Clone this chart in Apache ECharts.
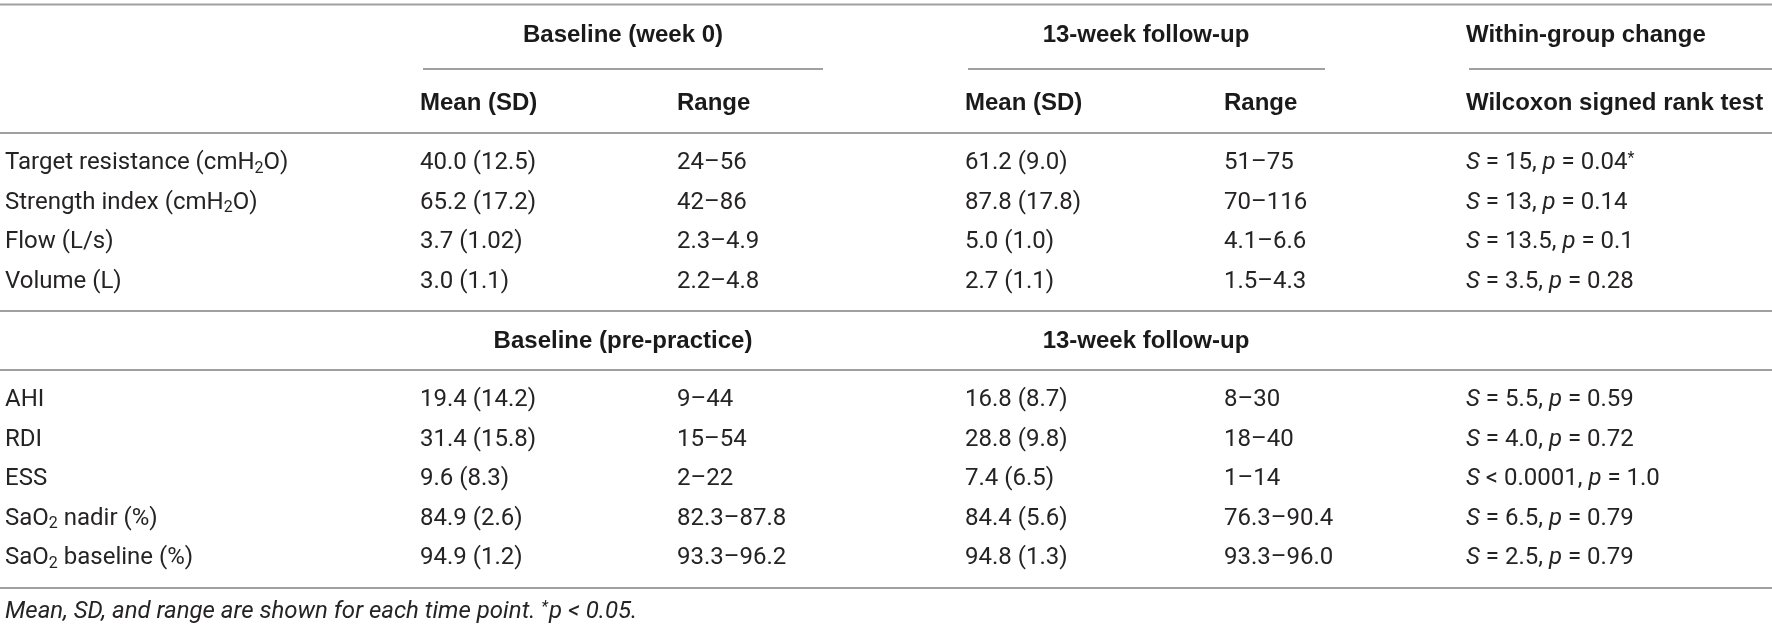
<!DOCTYPE html>
<html>
<head>
<meta charset="utf-8">
<script src="https://cdn.jsdelivr.net/npm/echarts@6/dist/echarts.min.js"></script>
<style>
  html, body { margin: 0; padding: 0; background: #fff; }
  #table { width: 1772px; height: 629px; }
</style>
</head>
<body>
<div id="table"></div>
<script>
// table content
const groupHeaders = ["Baseline (week 0)", "13-week follow-up", "Within-group change"];
const subHeaders = ["Mean (SD)", "Range", "Mean (SD)", "Range", "Wilcoxon signed rank test"];
const sleepHeaders = ["Baseline (pre-practice)", "13-week follow-up"];

const trainingLabels = [
  "Target resistance (cmH{sub|2}O)",
  "Strength index (cmH{sub|2}O)",
  "Flow (L/s)",
  "Volume (L)",
];
const trainingBaseMean = ["40.0 (12.5)", "65.2 (17.2)", "3.7 (1.02)", "3.0 (1.1)"];
const trainingBaseRange = ["24–56", "42–86", "2.3–4.9", "2.2–4.8"];
const trainingFollowMean = ["61.2 (9.0)", "87.8 (17.8)", "5.0 (1.0)", "2.7 (1.1)"];
const trainingFollowRange = ["51–75", "70–116", "4.1–6.6", "1.5–4.3"];
const trainingS = ["= 15", "= 13", "= 13.5", "= 3.5"];
const trainingP = ["= 0.04{sup|*}", "= 0.14", "= 0.1", "= 0.28"];

const sleepLabels = ["AHI", "RDI", "ESS", "SaO{sub|2} nadir (%)", "SaO{sub|2} baseline (%)"];
const sleepBaseMean = ["19.4 (14.2)", "31.4 (15.8)", "9.6 (8.3)", "84.9 (2.6)", "94.9 (1.2)"];
const sleepBaseRange = ["9–44", "15–54", "2–22", "82.3–87.8", "93.3–96.2"];
const sleepFollowMean = ["16.8 (8.7)", "28.8 (9.8)", "7.4 (6.5)", "84.4 (5.6)", "94.8 (1.3)"];
const sleepFollowRange = ["8–30", "18–40", "1–14", "76.3–90.4", "93.3–96.0"];
const sleepS = ["= 5.5", "= 4.0", "< 0.0001", "= 6.5", "= 2.5"];
const sleepP = ["= 0.59", "= 0.72", "= 1.0", "= 0.79", "= 0.79"];

const footnote = "Mean, SD, and range are shown for each time point. {sup|*}p < 0.05.";

// layout (pixel units of the hidden axes)
const colX = [5, 420, 677, 965, 1224, 1466];
const spanCenter = [623, 1146];
const underlines = [[423, 823], [968, 1325], [1469, 1772]];
const headY = { top: 4.5, group: 35, underline: 69, sub: 103, rule: 133 };
const trainingY0 = 163;
const rowStep = 39.6;
const midRule = 311;
const sleepHeadY = 341;
const sleepRule = 370;
const sleepY0 = 400;
const bottomRule = 588;
const footY = 612;

const textColor = "#262324";
const headColor = "#1a1a1a";
const ruleColor = "#a0a0a0";
const font = "Roboto, 'Helvetica Neue', Arial, sans-serif";
const headFont = "'Liberation Sans', Arial, sans-serif";

const rich = {
  sub: { fontSize: 16, fontFamily: font, padding: [11, 0, 0, 0], fill: textColor },
  sup: { fontSize: 16, fontFamily: font, padding: [0, 1, 8, 0], fill: textColor },
  i: { fontStyle: "italic", fontSize: 24, fontFamily: font, fill: textColor },
};

function stat(s, p) {
  return "{i|S} " + s + ", {i|p} " + p;
}

// cells: [x, y, text, kind, align]
const cells = [];
groupHeaders.slice(0, 2).forEach((t, i) => cells.push([spanCenter[i], headY.group, t, "bold", "center"]));
cells.push([colX[5], headY.group, groupHeaders[2], "bold", "left"]);
subHeaders.forEach((t, i) => cells.push([colX[i + 1], headY.sub, t, "bold", "left"]));

trainingLabels.forEach((label, r) => {
  const y = trainingY0 + r * rowStep;
  cells.push([colX[0], y, label, "plain", "left"]);
  cells.push([colX[1], y, trainingBaseMean[r], "plain", "left"]);
  cells.push([colX[2], y, trainingBaseRange[r], "plain", "left"]);
  cells.push([colX[3], y, trainingFollowMean[r], "plain", "left"]);
  cells.push([colX[4], y, trainingFollowRange[r], "plain", "left"]);
  cells.push([colX[5], y, stat(trainingS[r], trainingP[r]), "plain", "left"]);
});

sleepHeaders.forEach((t, i) => cells.push([spanCenter[i], sleepHeadY, t, "bold", "center"]));

sleepLabels.forEach((label, r) => {
  const y = sleepY0 + r * rowStep;
  cells.push([colX[0], y, label, "plain", "left"]);
  cells.push([colX[1], y, sleepBaseMean[r], "plain", "left"]);
  cells.push([colX[2], y, sleepBaseRange[r], "plain", "left"]);
  cells.push([colX[3], y, sleepFollowMean[r], "plain", "left"]);
  cells.push([colX[4], y, sleepFollowRange[r], "plain", "left"]);
  cells.push([colX[5], y, stat(sleepS[r], sleepP[r]), "plain", "left"]);
});

cells.push([colX[0], footY, footnote, "italic", "left"]);

// rules: [x1, x2, y]
const rules = [
  [0, 1772, headY.top],
  ...underlines.map((u) => [u[0], u[1], headY.underline]),
  [0, 1772, headY.rule],
  [0, 1772, midRule],
  [0, 1772, sleepRule],
  [0, 1772, bottomRule],
];

const chart = echarts.init(document.getElementById("table"), null, { renderer: "canvas" });

chart.setOption({
  animation: false,
  grid: { left: 0, right: 0, top: 0, bottom: 0 },
  xAxis: { type: "value", min: 0, max: 1772, show: false },
  yAxis: { type: "value", min: 0, max: 629, inverse: true, show: false },
  series: [
    {
      type: "custom",
      data: rules,
      renderItem: (params, api) => {
        const a = api.coord([api.value(0), api.value(2)]);
        const b = api.coord([api.value(1), api.value(2)]);
        return {
          type: "line",
          shape: { x1: a[0], y1: a[1], x2: b[0], y2: b[1] },
          style: { stroke: ruleColor, lineWidth: 2 },
        };
      },
    },
    {
      type: "custom",
      data: cells,
      renderItem: (params, api) => {
        const item = cells[params.dataIndex];
        const p = api.coord([item[0], item[1]]);
        const kind = item[3];
        const bold = kind === "bold";
        return {
          type: "text",
          x: p[0],
          y: p[1],
          style: {
            text: item[2],
            fontFamily: bold ? headFont : font,
            fontSize: 24,
            fontWeight: bold ? "bold" : "normal",
            fontStyle: kind === "italic" ? "italic" : "normal",
            fill: bold ? headColor : textColor,
            align: item[4],
            verticalAlign: "middle",
            rich: kind === "italic"
              ? { sup: { ...rich.sup, fontStyle: "italic" } }
              : rich,
          },
        };
      },
    },
  ],
});
</script>
</body>
</html>
